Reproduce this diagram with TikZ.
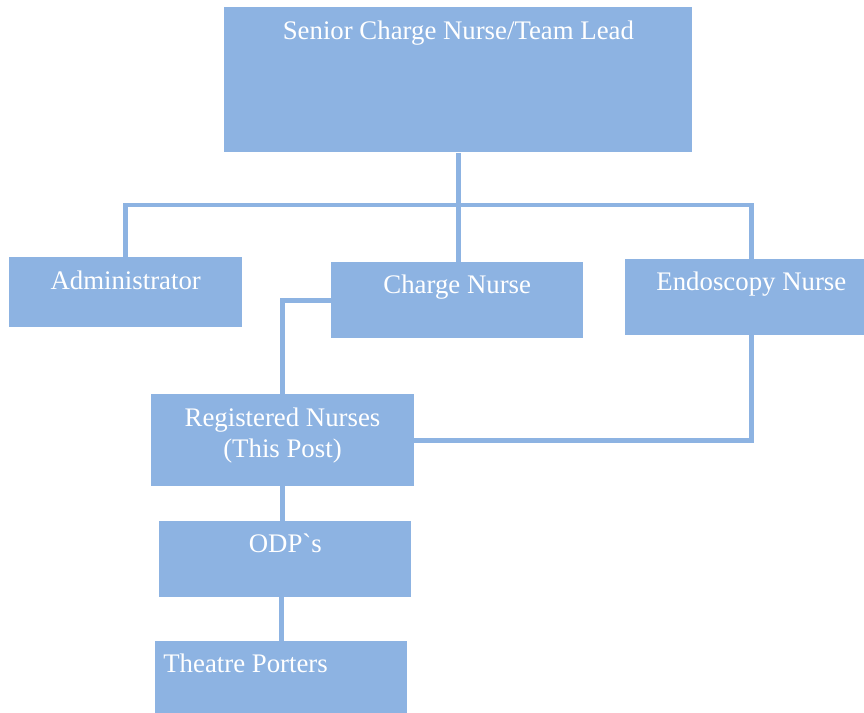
\documentclass[tikz,border=0pt]{standalone}
\usepackage{fontspec}
\setmainfont{Liberation Serif}
\definecolor{boxblue}{RGB}{141,179,226}
\tikzset{every picture/.style={line width=0.55pt}}
\tikzset{
  unit/.style={fill=boxblue, draw=none, anchor=north west, inner sep=0pt},
  link/.style={draw=boxblue, line width=3.5pt},
  txt/.style={text=white, inner sep=0pt, font=\fontsize{20.1}{23.3}\selectfont},
}

\begin{document}
\begin{tikzpicture}[x=0.75pt,y=0.75pt,yscale=-1,xscale=1]
            %set diagram left start at 0, and has height of 713
            \path[use as bounding box, clip] (0,0) rectangle (864,713);

            %Shape: Rectangle [id:lead] 
            \node[unit, minimum width=351pt, minimum height=108.8pt] (lead) at (224,7) {};
            %Shape: Rectangle [id:admin] 
            \node[unit, minimum width=174.5pt, minimum height=52.5pt] (admin) at (9,257) {};
            %Shape: Rectangle [id:charge] 
            \node[unit, minimum width=188.8pt, minimum height=56.8pt] (charge) at (331,262) {};
            %Shape: Rectangle [id:endo] 
            \node[unit, minimum width=189pt, minimum height=56.8pt] (endo) at (625,259) {};
            %Shape: Rectangle [id:reg] 
            \node[unit, minimum width=196.7pt, minimum height=68.8pt] (reg) at (151,394) {};
            %Shape: Rectangle [id:odp] 
            \node[unit, minimum width=189pt, minimum height=56.8pt] (odp) at (159,521) {};
            %Shape: Rectangle [id:porter] 
            \node[unit, minimum width=189pt, minimum height=56.8pt] (porter) at (155,641) {};

            %Straight Lines [id:bus] 
            \coordinate (bus) at (lead.south |- 0,205);
            \draw[link] (lead.south) -- (bus);
            \draw[link] (admin.north) |- (bus) -| (endo.north);
            \draw[link] (bus) -- (bus |- charge.north);
            %Straight Lines [id:charge-reg] 
            \draw[link] (charge.west) -| (reg.north);
            %Straight Lines [id:endo-reg] 
            \draw[link] (endo.south) |- (reg.east);
            %Straight Lines [id:reg-odp] 
            \draw[link] (reg.south) -- (reg.south |- odp.north);
            %Straight Lines [id:odp-porter] 
            \draw[link] (porter.north |- odp.south) -- (porter.north);

            % Text Node
            \node[txt, anchor=base] (leadtxt) at ([yshift=24.2pt]lead.north) {Senior Charge Nurse/Team Lead};
            % Text Node
            \node[txt, anchor=base] (admintxt) at ([yshift=24pt]admin.north) {Administrator};
            % Text Node
            \node[txt, anchor=base] (chargetxt) at ([yshift=23.5pt]charge.north) {Charge Nurse};
            % Text Node
            \node[txt, anchor=base] (endotxt) at ([yshift=23.8pt]endo.north) {Endoscopy Nurse};
            % Text Node
            \node[txt, anchor=north, align=center] (regtxt) at ([yshift=10pt]reg.north) {Registered Nurses\\(This Post)};
            % Text Node
            \node[txt, anchor=base] (odptxt) at ([yshift=23.8pt]odp.north) {ODP\textasciigrave s};
            % Text Node
            \node[txt, anchor=base west] (portertxt) at ([xshift=6pt,yshift=23.5pt]porter.north west) {Theatre Porters};
\end{tikzpicture}
\end{document}
